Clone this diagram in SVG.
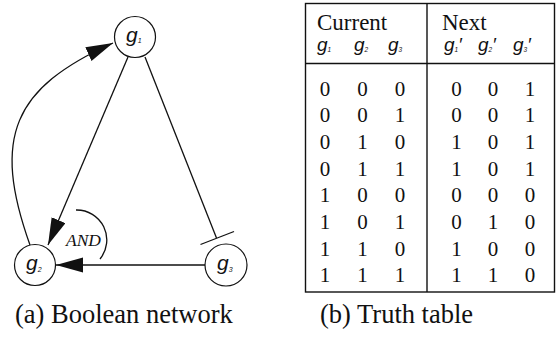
<svg xmlns="http://www.w3.org/2000/svg" width="556" height="350" viewBox="0 0 556 350">
  <style>
    .node { fill: #fff; stroke: #111; stroke-width: 1.2; }
    .edge { fill: none; stroke: #111; stroke-width: 1.3; }
    .lbl { font-family: "Liberation Sans", Arial, sans-serif; font-style: italic; font-size: 21px; fill: #111; }
    .sub { font-size: 7px; }
    .and { font-family: "Liberation Serif", "Times New Roman", serif; font-style: italic; font-size: 17.5px; fill: #111; }
    .grid { fill: none; stroke: #111; stroke-width: 1.4; }
    .hd { font-family: "Liberation Serif", "Times New Roman", serif; font-size: 23px; fill: #111; }
    .var { font-family: "Liberation Sans", Arial, sans-serif; font-style: italic; font-size: 19px; fill: #111; }
    .vsub { font-size: 6.5px; }
    .num { font-family: "Liberation Serif", "Times New Roman", serif; font-size: 21px; fill: #111; text-anchor: middle; }
    .cap { font-family: "Liberation Serif", "Times New Roman", serif; font-size: 26.5px; fill: #111; }
  </style>
  <defs>
    <marker id="arrow" markerUnits="userSpaceOnUse" markerWidth="28" markerHeight="16" refX="27" refY="7.5" orient="auto">
      <path d="M0,0 L27,7.5 L0,15 Z" fill="#111"/>
    </marker>
  </defs>

  <!-- (a) Boolean network -->
  <g id="connectors">
    <!-- g2 to g1, curved activation -->
    <path class="edge" d="M30,245 C-8.5,137 13,88 113,43" marker-end="url(#arrow)"/>
    <!-- g1 to g2 activation -->
    <path class="edge" d="M128,57 L48,245" marker-end="url(#arrow)"/>
    <!-- g3 to g2 activation -->
    <path class="edge" d="M205,265 L56,265" marker-end="url(#arrow)"/>
    <!-- g1 inhibits g3 -->
    <path class="edge" d="M145,57 L216.5,238"/>
    <path class="edge" d="M200.5,244.5 L234,231.5"/>
    <!-- AND arc joining the two inputs of g2 -->
    <path class="edge" d="M76,210 A30,30 0 0 1 100,259"/>
    <text class="and" x="66" y="246">AND</text>
  </g>

  <g id="g1">
    <circle class="node" cx="135" cy="37" r="20.5"/>
    <text class="lbl" x="126" y="42">g<tspan class="sub" dy="1">1</tspan></text>
  </g>
  <g id="g2">
    <circle class="node" cx="35" cy="265" r="20.5"/>
    <text class="lbl" x="26" y="270">g<tspan class="sub" dy="2">2</tspan></text>
  </g>
  <g id="g3">
    <circle class="node" cx="226" cy="265" r="21"/>
    <text class="lbl" x="217" y="270">g<tspan class="sub" dy="2">3</tspan></text>
  </g>

  <!-- (b) Truth table -->
  <g id="truth-table">
    <rect class="grid" x="305.5" y="3.5" width="249" height="288.5"/>
    <line class="grid" x1="305.5" y1="63.5" x2="554.5" y2="63.5"/>
    <line class="grid" x1="427" y1="3.5" x2="427" y2="292"/>

    <text class="hd" x="317" y="30">Current</text>
    <text class="hd" x="442" y="30">Next</text>

    <text class="var" x="317" y="51">g<tspan class="vsub" dy="1">1</tspan></text>
    <text class="var" x="354" y="51">g<tspan class="vsub" dy="1">2</tspan></text>
    <text class="var" x="388" y="51">g<tspan class="vsub" dy="1">3</tspan></text>
    <text class="var" x="444" y="51">g<tspan class="vsub" dy="1">1</tspan><tspan dy="-1">′</tspan></text>
    <text class="var" x="478" y="51">g<tspan class="vsub" dy="1">2</tspan><tspan dy="-1">′</tspan></text>
    <text class="var" x="513" y="51">g<tspan class="vsub" dy="1">3</tspan><tspan dy="-1">′</tspan></text>

    <g id="rows">
      <text class="num" y="95.5"><tspan x="325">0</tspan><tspan x="362.5">0</tspan><tspan x="400">0</tspan><tspan x="456.5">0</tspan><tspan x="493">0</tspan><tspan x="530">1</tspan></text>
      <text class="num" y="122.2"><tspan x="325">0</tspan><tspan x="362.5">0</tspan><tspan x="400">1</tspan><tspan x="456.5">0</tspan><tspan x="493">0</tspan><tspan x="530">1</tspan></text>
      <text class="num" y="148.9"><tspan x="325">0</tspan><tspan x="362.5">1</tspan><tspan x="400">0</tspan><tspan x="456.5">1</tspan><tspan x="493">0</tspan><tspan x="530">1</tspan></text>
      <text class="num" y="175.6"><tspan x="325">0</tspan><tspan x="362.5">1</tspan><tspan x="400">1</tspan><tspan x="456.5">1</tspan><tspan x="493">0</tspan><tspan x="530">1</tspan></text>
      <text class="num" y="202.3"><tspan x="325">1</tspan><tspan x="362.5">0</tspan><tspan x="400">0</tspan><tspan x="456.5">0</tspan><tspan x="493">0</tspan><tspan x="530">0</tspan></text>
      <text class="num" y="229"><tspan x="325">1</tspan><tspan x="362.5">0</tspan><tspan x="400">1</tspan><tspan x="456.5">0</tspan><tspan x="493">1</tspan><tspan x="530">0</tspan></text>
      <text class="num" y="255.7"><tspan x="325">1</tspan><tspan x="362.5">1</tspan><tspan x="400">0</tspan><tspan x="456.5">1</tspan><tspan x="493">0</tspan><tspan x="530">0</tspan></text>
      <text class="num" y="282.4"><tspan x="325">1</tspan><tspan x="362.5">1</tspan><tspan x="400">1</tspan><tspan x="456.5">1</tspan><tspan x="493">1</tspan><tspan x="530">0</tspan></text>
    </g>
  </g>

  <!-- captions -->
  <text class="cap" x="15" y="323">(a) Boolean network</text>
  <text class="cap" x="320" y="323">(b) Truth table</text>
</svg>
